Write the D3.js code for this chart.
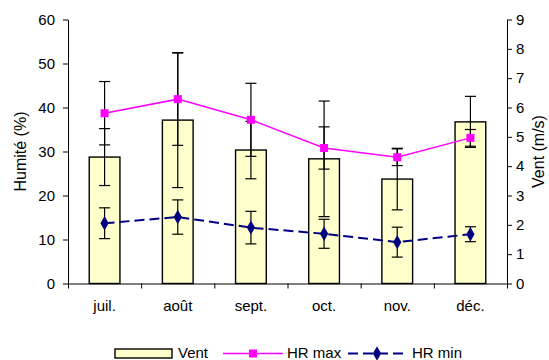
<!DOCTYPE html>
<html>
<head>
<meta charset="utf-8">
<script src="https://cdn.jsdelivr.net/npm/d3@7"></script>
<style>
  body { margin: 0; background: #fff; }
  text { font-family: "Liberation Sans", Arial, sans-serif; }
</style>
</head>
<body>
<svg id="svg1" width="549" height="360"></svg>
<script>
// données
var mois = ["juil.", "août", "sept.", "oct.", "nov.", "déc."];
var vent = [4.31, 5.57, 4.55, 4.25, 3.56, 5.51];        // m/s (axe droit)
var ventErr = [0.97, 2.30, 0.98, 1.97, 1.05, 0.87];
var hrMax = [38.7, 41.9, 37.2, 30.8, 28.7, 33.1];        // % (axe gauche)
var hrMaxErr = [7.2, 10.5, 8.3, 4.8, 1.9, 1.9];
var hrMin = [13.7, 15.1, 12.7, 11.3, 9.4, 11.2];
var hrMinErr = [3.5, 3.9, 3.7, 3.3, 3.4, 1.7];
var ticksGauche = [0, 10, 20, 30, 40, 50, 60];
var ticksDroite = [0, 1, 2, 3, 4, 5, 6, 7, 8, 9];

var svg = d3.select("#svg1");
var g = svg.append("g");

var x0 = 68, x1 = 507, yTop = 19.5, yBas = 283.5;

var scaleX = d3.scaleBand().domain(mois).range([x0, x1]).paddingInner(0.58).paddingOuter(0.29);
var scaleBord = d3.scaleLinear().domain([0, mois.length]).range([x0, x1]);
var scaleY = d3.scaleLinear().domain([0, 60]).range([yBas, yTop]);
var scaleY2 = d3.scaleLinear().domain([0, 9]).range([yBas, yTop]);
var cx = function(i) { return scaleX(mois[i]) + scaleX.bandwidth() / 2; };

// barres Vent
g.selectAll("rect.bar").data(vent).enter().append("rect")
  .attr("class", "bar")
  .attr("x", function(d, i) { return scaleX(mois[i]); })
  .attr("width", scaleX.bandwidth())
  .attr("y", function(d) { return scaleY2(d); })
  .attr("height", function(d) { return yBas - scaleY2(d); })
  .attr("fill", "#FFFFCC").attr("stroke", "#000").attr("stroke-width", 1.4);

// barres d'erreur
function errBars(vals, errs, sc) {
  var e = g.append("g").attr("stroke", "#000").attr("stroke-width", 1.2);
  vals.forEach(function(v, i) {
    var lo = sc(v - errs[i]), hi = sc(v + errs[i]), c = cx(i);
    e.append("line").attr("x1", c).attr("x2", c).attr("y1", lo).attr("y2", hi);
    e.append("line").attr("x1", c - 5.5).attr("x2", c + 5.5).attr("y1", lo).attr("y2", lo);
    e.append("line").attr("x1", c - 5.5).attr("x2", c + 5.5).attr("y1", hi).attr("y2", hi);
  });
}
errBars(vent, ventErr, scaleY2);
errBars(hrMax, hrMaxErr, scaleY);
errBars(hrMin, hrMinErr, scaleY);

// lignes
var ligne = d3.line().x(function(d, i) { return cx(i); }).y(function(d) { return scaleY(d); });
g.append("path").datum(hrMax).attr("d", ligne)
  .attr("fill", "none").attr("stroke", "#FF00FF").attr("stroke-width", 1.5);
g.append("path").datum(hrMin).attr("d", ligne)
  .attr("fill", "none").attr("stroke", "#000080").attr("stroke-width", 2).attr("stroke-dasharray", "10,5");

var carre = d3.symbol().type(d3.symbolSquare).size(64);
var losange = d3.symbol().type(d3.symbolDiamond).size(60);
g.selectAll("path.mx").data(hrMax).enter().append("path")
  .attr("d", carre).attr("fill", "#FF00FF")
  .attr("transform", function(d, i) { return "translate(" + cx(i) + "," + scaleY(d) + ")"; });
g.selectAll("path.mn").data(hrMin).enter().append("path")
  .attr("d", losange).attr("fill", "#000080")
  .attr("transform", function(d, i) { return "translate(" + cx(i) + "," + scaleY(d) + ")"; });

// axes
var axisY = d3.axisLeft(scaleY).tickValues(ticksGauche).tickSize(5).tickPadding(8).tickSizeOuter(0);
var gAxisY = g.append("g").attr("transform", "translate(" + x0 + ",0)").call(axisY);
var axisY2 = d3.axisRight(scaleY2).tickValues(ticksDroite).tickSize(5).tickPadding(4).tickSizeOuter(0);
var gAxisY2 = g.append("g").attr("transform", "translate(" + x1 + ",0)").call(axisY2);
var axisX = d3.axisBottom(scaleBord).tickValues(d3.range(mois.length + 1)).tickSize(5).tickFormat("").tickSizeOuter(0);
var gAxisX = g.append("g").attr("transform", "translate(0," + yBas + ")").call(axisX);
var axisXLab = d3.axisBottom(scaleX).tickSize(0).tickPadding(17);
var gAxisXLab = g.append("g").attr("transform", "translate(0," + yBas + ")").call(axisXLab);
gAxisXLab.select(".domain").remove();
[gAxisY, gAxisY2, gAxisX, gAxisXLab].forEach(function(a) {
  a.selectAll("text").attr("font-size", 15).attr("fill", "#000")
    .style("font-family", "'Liberation Sans', Arial, sans-serif");
  a.selectAll("line, path").attr("stroke", "#000");
});

// titres des axes
g.append("text").attr("transform", "translate(26," + (yTop + yBas) / 2 + ") rotate(-90)")
  .attr("text-anchor", "middle").attr("font-size", 16).text("Humité (%)");
g.append("text").attr("transform", "translate(544," + (yTop + yBas) / 2 + ") rotate(-90)")
  .attr("text-anchor", "middle").attr("font-size", 16).text("Vent (m/s)");

// légende
var leg = g.append("g");
var ly = 353.5;
leg.append("rect").attr("x", 115).attr("y", ly - 4.5).attr("width", 57).attr("height", 9)
  .attr("fill", "#FFFFCC").attr("stroke", "#000").attr("stroke-width", 1.4);
leg.append("text").attr("x", 178).attr("y", 358).attr("font-size", 15).text("Vent");
leg.append("line").attr("x1", 223).attr("x2", 283).attr("y1", ly).attr("y2", ly)
  .attr("stroke", "#FF00FF").attr("stroke-width", 1.5);
leg.append("path").attr("d", carre).attr("fill", "#FF00FF").attr("transform", "translate(253," + ly + ")");
leg.append("text").attr("x", 287).attr("y", 358).attr("font-size", 15).text("HR max");
leg.append("line").attr("x1", 348).attr("x2", 407).attr("y1", ly).attr("y2", ly)
  .attr("stroke", "#000080").attr("stroke-width", 2).attr("stroke-dasharray", "10,5");
leg.append("path").attr("d", losange).attr("fill", "#000080").attr("transform", "translate(377," + ly + ")");
leg.append("text").attr("x", 412).attr("y", 358).attr("font-size", 15).text("HR min");
</script>
</body>
</html>
